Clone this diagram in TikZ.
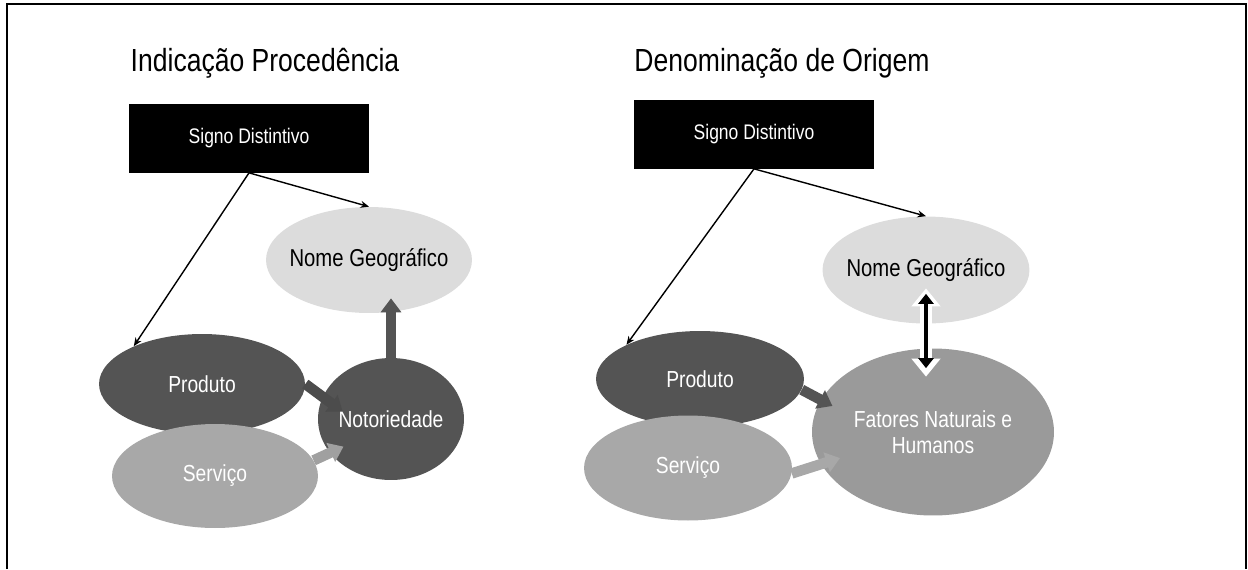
\documentclass[tikz,border=0pt]{standalone}
\usepackage{fontspec}
\setmainfont[FakeStretch=0.83]{Liberation Sans}
\usetikzlibrary{arrows.meta, shapes.geometric}

\definecolor{geogray}{HTML}{DCDCDC}
\definecolor{darkgray}{HTML}{545454}
\definecolor{midgray}{HTML}{9A9A9A}
\definecolor{lightgray}{HTML}{A8A8A8}

\begin{document}
\begin{tikzpicture}[
    % GLOBAL CFG (1 unit = 1 pixel of the page)
    x=0.02cm, y=-0.02cm,
    font=\fontsize{13.2}{15}\selectfont,
    >={Stealth[length=0.17cm, width=0.14cm]},
    % Styles
    title/.style={% Panel headings
        font=\fontsize{18.2}{21}\selectfont,
        anchor=base,
        },
    sign/.style={% Black box on top
        rectangle,
        fill=black,
        text=white,
        font=\fontsize{12}{14}\selectfont,
        minimum width=4.8cm,
        minimum height=1.38cm,
        },
    blob/.style={% Grey ellipses
        ellipse,
        inner xsep=-0.6cm,
        inner ysep=0pt,
        text=white,
        align=center,
        },
    geo/.style={% Light ellipse with the place name
        blob,
        fill=geogray,
        text=black,
        font=\fontsize{13.9}{16}\selectfont,
        },
    link/.style={% Thin arrows from the sign
        ->,
        line width=0.8pt,
        },
    fat/.style={% Thick block arrows
        line width=0.21cm,
        -{Triangle[width=0.4cm, length=0.28cm]},
        },
    halo/.style={% White outline of the double arrow
        draw=white,
        line width=0.24cm,
        {Triangle[width=0.56cm, length=0.36cm]}-{Triangle[width=0.56cm, length=0.36cm]},
        },
    twoway/.style={% Black double arrow
        draw=black,
        line width=0.08cm,
        {Triangle[width=0.3cm, length=0.2cm]}-{Triangle[width=0.3cm, length=0.2cm]},
        },
    ]
    \useasboundingbox (0,0) rectangle (1248,569);

    % Frame, open at the bottom
    \draw [line width=0.05cm] (7,569) -- (7,4) -- (1246,4) -- (1246,569);

    % Left panel
    \node [title] (title1) at (265,71) {Indicação Procedência};
    \node [sign] (sign1) at (249,138) {Signo Distintivo};

    \node [geo, minimum width=4.12cm, minimum height=2.12cm] (geo1) at (369,260) {Nome Geográfico};
    \node [blob, fill=darkgray, minimum width=4.12cm, minimum height=2cm] (prod1) at (202,384) {Produto};
    \node [blob, fill=lightgray, minimum width=4.12cm, minimum height=2.08cm] (serv1) at (215,476) {Serviço};
    \node [blob, fill=darkgray, minimum width=2.92cm, minimum height=2.44cm] (noto) at (391,419) {Notoriedade};

    \draw [link] (sign1.south) -- (geo1.north);
    \draw [link] (sign1.south) -- (prod1.151);
    \draw [fat, draw=darkgray!90!black, shorten >=-0.5cm] (prod1.east) -- (noto.162);
    \draw [fat, draw=lightgray!95!black, shorten >=-0.3cm] (serv1.9) -- (noto.209);
    \draw [fat, draw=darkgray, shorten >=-0.3cm] (noto.north) -- (noto.north |- geo1.south);

    % Right panel
    \node [title] (title2) at (782,71) {Denominação de Origem};
    \node [sign] (sign2) at (754,134) {Signo Distintivo};

    \node [geo, minimum width=4.14cm, minimum height=2.14cm] (geo2) at (926,270) {Nome Geográfico};
    \node [blob, fill=darkgray, minimum width=4.16cm, minimum height=1.92cm] (prod2) at (700,379) {Produto};
    \node [blob, fill=lightgray, minimum width=4.16cm, minimum height=2.1cm] (serv2) at (688,468) {Serviço};
    \node [blob, fill=midgray, minimum width=4.84cm, minimum height=3.34cm] (fat) at (933,432) {Fatores Naturais e\\Humanos};

    \draw [link] (sign2.south) -- (geo2.north);
    \draw [link] (sign2.south) -- (prod2.155);
    \draw [fat, draw=darkgray, shorten >=-0.26cm] (prod2.-6) -- (fat.164);
    \draw [fat, draw=lightgray, shorten >=-0.4cm] (serv2.-3) -- (fat.196);
    \draw [halo, shorten <=-0.71cm, shorten >=-0.57cm] (geo2.south) -- (geo2.south |- fat.north);
    \draw [twoway, shorten <=-0.6cm, shorten >=-0.4cm] (geo2.south) -- (geo2.south |- fat.north);

\end{tikzpicture}
\end{document}
